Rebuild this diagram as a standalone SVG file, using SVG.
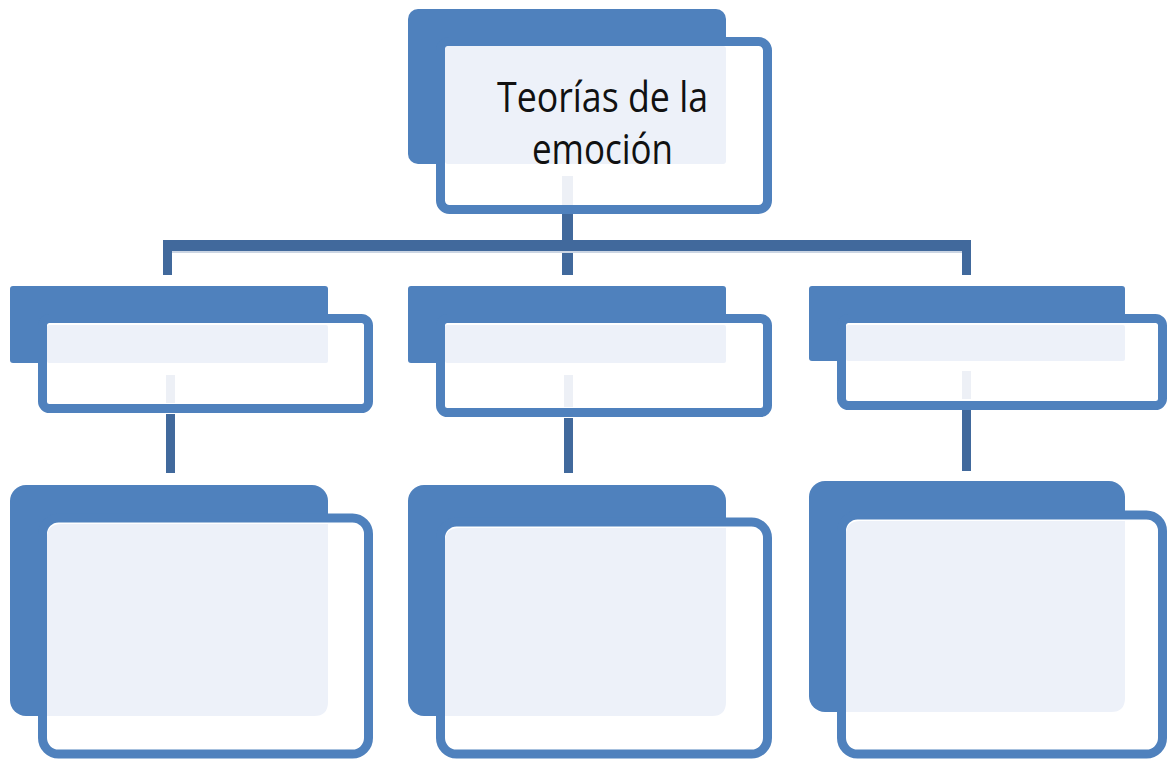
<svg xmlns="http://www.w3.org/2000/svg" width="1168" height="759" viewBox="0 0 1168 759">
<style>
.back{fill:#4F81BD}
.front{fill:#FFFFFF;stroke:#4F81BD;stroke-width:9}
.light{fill:#EDF1F9}
.stub{fill:#EDF0F6}
.conn{fill:#41699C}
.lbl{font-family:"Open Sans","Liberation Sans",sans-serif;font-size:42px;fill:#111111}
</style>
<rect width="1168" height="759" fill="#FFFFFF"/>
<g id="node-top">
<rect class="back" x="408" y="9" width="318" height="155" rx="10"/>
<rect class="front" x="440.5" y="41.5" width="327" height="168" rx="9"/>
<rect class="light" x="445" y="46" width="281" height="118" rx="3"/>
<text class="lbl" x="497" y="112" textLength="211" lengthAdjust="spacingAndGlyphs">Teorías de la</text>
<text class="lbl" x="532" y="164" textLength="141" lengthAdjust="spacingAndGlyphs">emoción</text>
</g>
<g id="node-mid-left">
<rect class="back" x="10" y="286" width="318" height="77" rx="3"/>
<rect class="front" x="42.5" y="318.5" width="326" height="90" rx="7"/>
<rect class="light" x="47" y="325" width="281" height="38" rx="2"/>
</g>
<g id="node-mid-center">
<rect class="back" x="408" y="286" width="318" height="77" rx="3"/>
<rect class="front" x="440.5" y="318.5" width="327" height="94" rx="7"/>
<rect class="light" x="445" y="325" width="281" height="38" rx="2"/>
</g>
<g id="node-mid-right">
<rect class="back" x="809" y="286" width="316" height="75" rx="3"/>
<rect class="front" x="841.5" y="318.5" width="321" height="87" rx="7"/>
<rect class="light" x="846" y="325" width="279" height="36" rx="2"/>
</g>
<g id="node-bottom-left">
<rect class="back" x="10" y="485" width="318" height="231" rx="16"/>
<rect class="front" x="42.5" y="518" width="326" height="236" rx="16"/>
<path class="light" d="M47 538 Q47 524 61 524 L328 524 L328 702 Q328 716 314 716 L47 716 Z"/>
</g>
<g id="node-bottom-center">
<rect class="back" x="408" y="485" width="318" height="231" rx="16"/>
<rect class="front" x="440.5" y="522" width="327" height="232" rx="16"/>
<path class="light" d="M445 542 Q445 528 459 528 L726 528 L726 702 Q726 716 712 716 L445 716 Z"/>
</g>
<g id="node-bottom-right">
<rect class="back" x="809" y="481" width="316" height="231" rx="16"/>
<rect class="front" x="841.5" y="515" width="321" height="239" rx="16"/>
<path class="light" d="M846 535 Q846 521 860 521 L1125 521 L1125 698 Q1125 712 1111 712 L846 712 Z"/>
</g>
<g id="connectors">
<rect class="stub" x="562" y="176" width="11" height="29"/>
<rect class="conn" x="562" y="214" width="11" height="61"/>
<rect class="conn" x="163" y="240" width="808" height="11"/>
<rect fill="#CBD5E3" x="172" y="251" width="790" height="2"/>
<rect class="conn" x="163" y="240" width="9" height="35"/>
<rect class="conn" x="962" y="240" width="9" height="35"/>
<rect class="stub" x="166" y="375" width="9" height="28"/>
<rect class="conn" x="166" y="414" width="9" height="59"/>
<rect class="stub" x="564" y="375" width="9" height="32"/>
<rect class="conn" x="564" y="418" width="9" height="55"/>
<rect class="stub" x="962" y="371" width="9" height="28"/>
<rect class="conn" x="962" y="410" width="9" height="61"/>
</g>
</svg>
